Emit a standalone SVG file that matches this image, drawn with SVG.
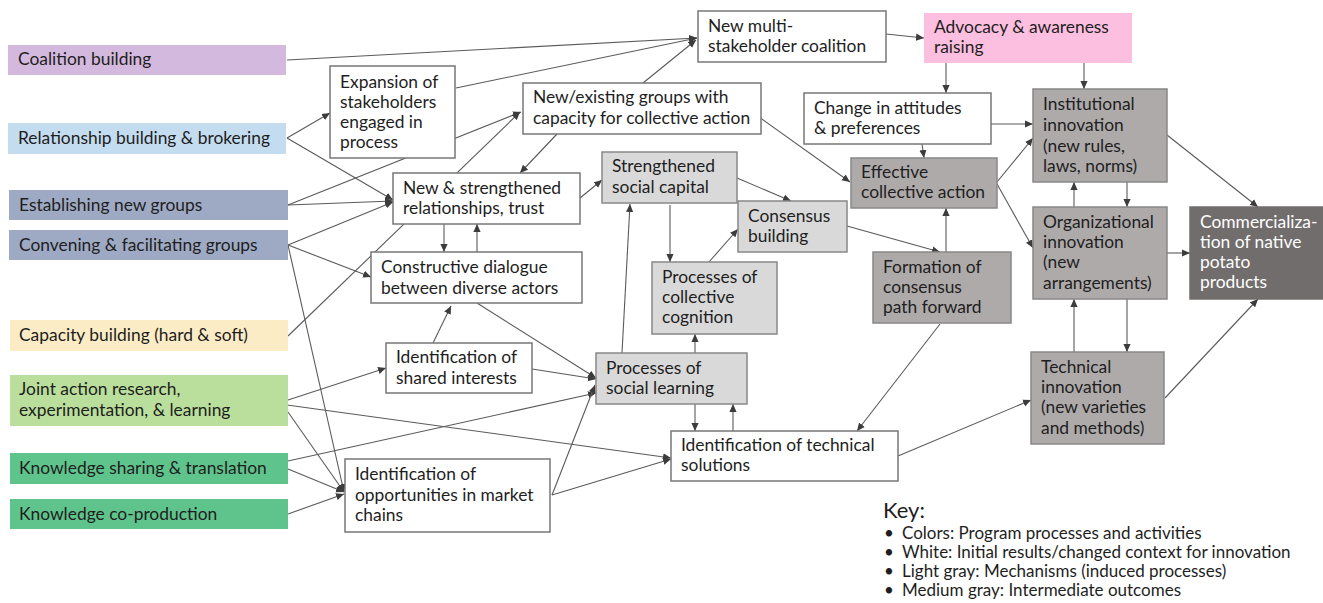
<svg xmlns="http://www.w3.org/2000/svg" width="1323" height="603" viewBox="0 0 1323 603">
<style>
text{font-family:Lato,"Open Sans","Liberation Sans",sans-serif;font-size:17.4px;fill:#1e1e1e}
.c rect{stroke:none}
.w rect{fill:#fff;stroke:#777;stroke-width:1.5}
.l rect{fill:#d9d9d9;stroke:#888;stroke-width:1.5}
.m rect{fill:#aeaaaa;stroke:#888;stroke-width:1.5}
.d rect{fill:#716d6d;stroke:#716d6d;stroke-width:1.5}
.d text{fill:#fff}
#conn line{stroke:#5a5a5a;stroke-width:1.1;marker-end:url(#ah)}
.key{font-size:17px}
</style>
<defs>
<marker id="ah" viewBox="0 0 10 10" refX="10" refY="5" markerWidth="8" markerHeight="8" markerUnits="userSpaceOnUse" orient="auto"><path d="M0,0.5 L10,5 L0,9.5 z" fill="#3c3c3c"/></marker>
</defs>
<rect width="1323" height="603" fill="#fff"/>
<g id="conn">
<line x1="287" y1="60" x2="697" y2="38"/>
<line x1="456" y1="88" x2="697" y2="38"/>
<line x1="643" y1="83" x2="696" y2="40"/>
<line x1="287" y1="138" x2="330" y2="113"/>
<line x1="287" y1="138" x2="393" y2="200"/>
<line x1="288" y1="205" x2="521" y2="112"/>
<line x1="288" y1="205" x2="393" y2="201"/>
<line x1="288" y1="245" x2="393" y2="202"/>
<line x1="288" y1="245" x2="371" y2="277"/>
<line x1="288" y1="245" x2="344" y2="492"/>
<line x1="288" y1="336" x2="520" y2="112"/>
<line x1="557" y1="134" x2="520" y2="173"/>
<line x1="759" y1="117" x2="850" y2="182"/>
<line x1="580" y1="198" x2="602" y2="180"/>
<line x1="444" y1="224" x2="444" y2="252"/>
<line x1="477" y1="252" x2="477" y2="224"/>
<line x1="477" y1="303" x2="596" y2="378"/>
<line x1="433" y1="343" x2="451" y2="306"/>
<line x1="532" y1="369" x2="596" y2="379"/>
<line x1="288" y1="400" x2="386" y2="368"/>
<line x1="287" y1="405" x2="671" y2="458"/>
<line x1="288" y1="412" x2="344" y2="492"/>
<line x1="288" y1="461" x2="596" y2="393"/>
<line x1="288" y1="469" x2="344" y2="492"/>
<line x1="288" y1="514" x2="344" y2="494"/>
<line x1="552" y1="495" x2="595" y2="385"/>
<line x1="552" y1="495" x2="671" y2="459"/>
<line x1="622" y1="353" x2="630" y2="204"/>
<line x1="695" y1="353" x2="695" y2="334"/>
<line x1="670" y1="205" x2="670" y2="262"/>
<line x1="709" y1="262" x2="738" y2="229"/>
<line x1="737" y1="178" x2="791" y2="201"/>
<line x1="695" y1="404" x2="695" y2="431"/>
<line x1="733" y1="431" x2="733" y2="404"/>
<line x1="847" y1="226" x2="940" y2="252"/>
<line x1="946" y1="252" x2="946" y2="208"/>
<line x1="940" y1="324" x2="857" y2="431"/>
<line x1="922" y1="144" x2="924" y2="158"/>
<line x1="991" y1="124" x2="1033" y2="124"/>
<line x1="946" y1="63" x2="946" y2="93"/>
<line x1="1084" y1="63" x2="1084" y2="89"/>
<line x1="886" y1="34" x2="924" y2="38"/>
<line x1="997" y1="182" x2="1033" y2="138"/>
<line x1="997" y1="184" x2="1033" y2="248"/>
<line x1="1167" y1="135" x2="1258" y2="207"/>
<line x1="1074" y1="207" x2="1074" y2="182"/>
<line x1="1127" y1="182" x2="1127" y2="207"/>
<line x1="1167" y1="253" x2="1190" y2="253"/>
<line x1="1074" y1="352" x2="1074" y2="299"/>
<line x1="1127" y1="299" x2="1127" y2="352"/>
<line x1="1165" y1="398" x2="1258" y2="299"/>
<line x1="898" y1="456" x2="1031" y2="400"/>
</g>
<g id="coalition-building" class="c"><rect x="8" y="45" width="278" height="30" fill="#d4b9de"/><text x="18" y="65">Coalition building</text></g>
<g id="relationship-building" class="c"><rect x="8" y="123" width="278" height="31" fill="#c4dcef"/><text x="18" y="144">Relationship building &amp; brokering</text></g>
<g id="establishing-groups" class="c"><rect x="9" y="190" width="279" height="30" fill="#9eaac4"/><text x="19" y="211">Establishing new groups</text></g>
<g id="convening-groups" class="c"><rect x="9" y="230" width="279" height="30" fill="#9eaac4"/><text x="19" y="251">Convening &amp; facilitating groups</text></g>
<g id="capacity-building" class="c"><rect x="10" y="320" width="278" height="31" fill="#fcecc6"/><text x="19" y="341">Capacity building (hard &amp; soft)</text></g>
<g id="joint-action" class="c"><rect x="10" y="375" width="278" height="51" fill="#badf9c"/><text x="19" y="395">Joint action research,</text><text x="19" y="416">experimentation, &amp; learning</text></g>
<g id="knowledge-sharing" class="c"><rect x="10" y="453" width="278" height="31" fill="#5fc48c"/><text x="19" y="474">Knowledge sharing &amp; translation</text></g>
<g id="knowledge-coproduction" class="c"><rect x="10" y="499" width="278" height="30" fill="#5fc48c"/><text x="19" y="520">Knowledge co-production</text></g>
<g id="expansion" class="w"><rect x="330" y="66" width="125" height="92"/><text x="340" y="88">Expansion of</text><text x="340" y="108">stakeholders</text><text x="340" y="128">engaged in</text><text x="340" y="148">process</text></g>
<g id="new-coalition" class="w"><rect x="698" y="11" width="188" height="51"/><text x="708" y="32">New multi-</text><text x="708" y="52">stakeholder coalition</text></g>
<g id="advocacy"><rect x="924" y="13" width="208" height="50" fill="#fdbfe0"/><text x="934" y="33">Advocacy &amp; awareness</text><text x="934" y="53">raising</text></g>
<g id="new-existing-groups" class="w"><rect x="523" y="83" width="238" height="51"/><text x="533" y="103">New/existing groups with</text><text x="533" y="124">capacity for collective action</text></g>
<g id="relationships-trust" class="w"><rect x="393" y="173" width="187" height="51"/><text x="403" y="194">New &amp; strengthened</text><text x="403" y="214">relationships, trust</text></g>
<g id="constructive-dialogue" class="w"><rect x="371" y="252" width="211" height="51"/><text x="381" y="273">Constructive dialogue</text><text x="381" y="294">between diverse actors</text></g>
<g id="shared-interests" class="w"><rect x="386" y="343" width="146" height="50"/><text x="396" y="363">Identification of</text><text x="396" y="384">shared interests</text></g>
<g id="market-opportunities" class="w"><rect x="345" y="459" width="205" height="73"/><text x="355" y="480">Identification of</text><text x="355" y="501">opportunities in market</text><text x="355" y="521">chains</text></g>
<g id="technical-solutions" class="w"><rect x="671" y="431" width="227" height="50"/><text x="681" y="451">Identification of technical</text><text x="681" y="471">solutions</text></g>
<g id="attitudes" class="w"><rect x="804" y="93" width="187" height="51"/><text x="814" y="114">Change in attitudes</text><text x="814" y="134">&amp; preferences</text></g>
<g id="social-capital" class="l"><rect x="602" y="152" width="135" height="51"/><text x="612" y="172">Strengthened</text><text x="612" y="193">social capital</text></g>
<g id="consensus-building" class="l"><rect x="738" y="201" width="109" height="51"/><text x="748" y="222">Consensus</text><text x="748" y="242">building</text></g>
<g id="collective-cognition" class="l"><rect x="652" y="262" width="125" height="72"/><text x="662" y="283">Processes of</text><text x="662" y="303">collective</text><text x="662" y="323">cognition</text></g>
<g id="social-learning" class="l"><rect x="596" y="353" width="151" height="51"/><text x="606" y="374">Processes of</text><text x="606" y="394">social learning</text></g>
<g id="effective-action" class="m"><rect x="851" y="158" width="146" height="50"/><text x="861" y="178">Effective</text><text x="861" y="198">collective action</text></g>
<g id="consensus-path" class="m"><rect x="873" y="252" width="138" height="71"/><text x="883" y="273">Formation of</text><text x="883" y="293">consensus</text><text x="883" y="313">path forward</text></g>
<g id="institutional" class="m"><rect x="1033" y="89" width="134" height="93"/><text x="1043" y="110">Institutional</text><text x="1043" y="131">innovation</text><text x="1043" y="152">(new rules,</text><text x="1043" y="172">laws, norms)</text></g>
<g id="organizational" class="m"><rect x="1033" y="207" width="134" height="92"/><text x="1043" y="228">Organizational</text><text x="1043" y="248">innovation</text><text x="1043" y="268">(new</text><text x="1043" y="289">arrangements)</text></g>
<g id="technical" class="m"><rect x="1031" y="352" width="133" height="92"/><text x="1041" y="373">Technical</text><text x="1041" y="393">innovation</text><text x="1041" y="413">(new varieties</text><text x="1041" y="434">and methods)</text></g>
<g id="commercialization" class="d"><rect x="1190" y="207" width="134" height="92"/><text x="1200" y="228">Commercializa-</text><text x="1200" y="248">tion of native</text><text x="1200" y="268">potato</text><text x="1200" y="288">products</text></g>
<g id="key">
<text x="883" y="518" style="font-size:22px">Key:</text>
<text class="key" x="884" y="539">•</text><text class="key" x="902" y="539">Colors: Program processes and activities</text>
<text class="key" x="884" y="558">•</text><text class="key" x="902" y="558">White: Initial results/changed context for innovation</text>
<text class="key" x="884" y="577">•</text><text class="key" x="902" y="577">Light gray: Mechanisms (induced processes)</text>
<text class="key" x="884" y="596">•</text><text class="key" x="902" y="596">Medium gray: Intermediate outcomes</text>
</g>
</svg>
